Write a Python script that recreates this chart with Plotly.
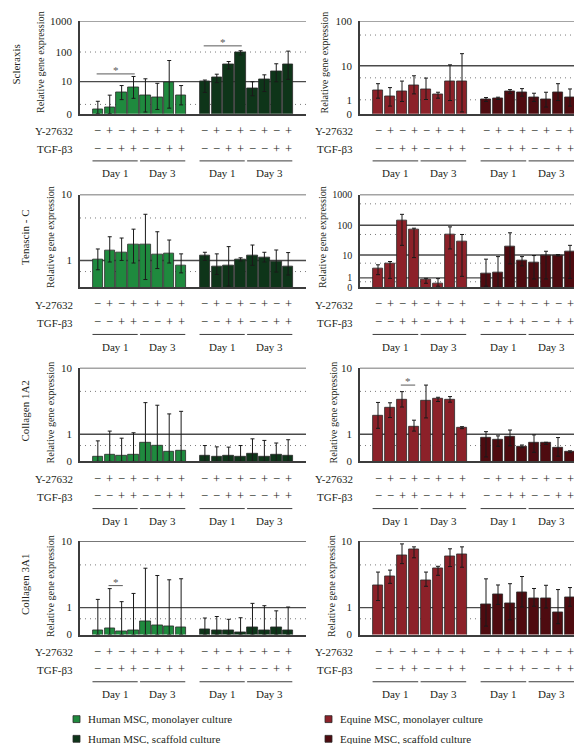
import math
import plotly.graph_objects as go

W, H = 582, 744
FONT = "Liberation Serif"
TXT = "#231f20"

# ---------------- data ----------------
genes = ["Scleraxis", "Tenascin - C", "Collagen 1A2", "Collagen 3A1"]
series_names = ["Human MSC, monolayer culture", "Human MSC, scaffold culture",
                "Equine MSC, monolayer culture", "Equine MSC, scaffold culture"]
y27632_signs = ["−", "+", "−", "+", "−", "+", "−", "+"]
tgfb3_signs = ["−", "−", "+", "+", "−", "−", "+", "+"]
day_labels = ["Day 1", "Day 3"]

# Scleraxis
scx_hm = [0.37, 0.63, 3.9, 6.05, 2.93, 2.39, 9.2, 2.93]
scx_hm_lo = [0, 0, 1.86, 2.15, 0.13, 0.37, 0.51, 0.93]
scx_hm_hi = [1.53, 3.0, 7.2, 15.2, 12.6, 8.7, 52.5, 7.2]
scx_hs = [9.9, 13.7, 37.9, 95, 5.5, 12, 22.3, 37.9]
scx_hs_lo = [3.9, 9.2, 27.3, 80, 2.83, 4.25, 9.9, 12]
scx_hs_hi = [11.4, 18.2, 48.6, 110, 9.9, 17.3, 40.9, 107]
scx_em = [2.22, 1.32, 2.02, 3.13, 2.44, 1.56, 3.95, 3.95]
scx_em_lo = [1.17, 0.46, 0.84, 1.69, 1.03, 1.17, 0.93, 0.09]
scx_em_hi = [3.48, 2.68, 4.1, 5.65, 4.93, 1.92, 10.5, 19.1]
scx_es = [1.03, 1.17, 2.02, 1.92, 1.28, 1.03, 1.92, 1.21]
scx_es_lo = [0.84, 1.03, 1.73, 1.39, 0.84, 0.39, 0.93, 0.46]
scx_es_hi = [1.24, 1.28, 2.33, 2.5, 1.78, 1.92, 3.48, 2.44]

# Tenascin - C
tnc_hm = [1.07, 1.61, 1.47, 2.03, 2.03, 1.33, 1.39, 0.75]
tnc_hm_lo = [0.57, 0.92, 1.0, 0.87, 0.22, 0.62, 0.87, 0.45]
tnc_hm_hi = [1.69, 2.69, 2.57, 3.49, 5.6, 3.2, 2.39, 1.37]
tnc_hs = [1.25, 0.71, 0.75, 1.07, 1.29, 1.14, 0.93, 0.69]
tnc_hs_lo = [1.0, 0.39, 0.03, 0.97, 0.76, 0.92, 0.48, 0.37]
tnc_hs_hi = [1.47, 1.37, 1.86, 1.14, 1.98, 1.47, 1.62, 1.45]
tnc_em = [2.96, 4.73, 139, 75, 0.72, 0.28, 50, 30.2]
tnc_em_lo = [1.55, 0.94, 21.7, 8.1, 0.34, 0.08, 16.3, 1.25]
tnc_em_hi = [4.32, 5.8, 228, 80.5, 0.94, 0.9, 89, 50]
tnc_es = [1.74, 2.1, 19, 6.1, 5.3, 9.9, 9.9, 13.6]
tnc_es_lo = [0.08, 0, 4.7, 3.9, 0.85, 0.85, 9.3, 0.94]
tnc_es_hi = [7.1, 8.8, 56.8, 8.8, 9.6, 13.6, 10.4, 21.7]

# Collagen 1A2
c1_hm = [0.12, 0.19, 0.15, 0.19, 0.63, 0.5, 0.29, 0.33]
c1_hm_lo = [0, 0, 0, 0, 0, 0, 0, 0]
c1_hm_hi = [0.69, 1.17, 0.81, 1.08, 3.5, 3.21, 2.37, 2.6]
c1_hs = [0.17, 0.13, 0.17, 0.13, 0.22, 0.13, 0.2, 0.15]
c1_hs_lo = [0, 0, 0, 0, 0, 0, 0, 0]
c1_hs_hi = [0.5, 0.45, 0.44, 0.5, 0.78, 0.71, 0.6, 0.74]
c1_em = [2.2, 2.92, 3.86, 1.4, 3.75, 3.99, 3.91, 1.37]
c1_em_lo = [1.33, 2.07, 3.02, 1.17, 2.04, 3.63, 3.55, 1.31]
c1_em_hi = [3.52, 3.48, 4.96, 1.87, 6.05, 4.16, 4.25, 1.43]
c1_es = [0.81, 0.73, 0.89, 0.47, 0.6, 0.6, 0.43, 0.28]
c1_es_lo = [0.12, 0.47, 0.49, 0.42, 0.26, 0.54, 0.14, 0.25]
c1_es_hi = [1.14, 0.92, 1.23, 0.52, 0.97, 0.63, 0.84, 0.31]

# Collagen 3A1
c3_hm = [0.11, 0.17, 0.08, 0.12, 0.4, 0.27, 0.25, 0.21]
c3_hm_lo = [0, 0, 0, 0, 0, 0, 0, 0]
c3_hm_hi = [1.47, 2.26, 1.33, 1.88, 4.51, 3.57, 3.09, 3.2]
c3_hs = [0.13, 0.11, 0.1, 0.07, 0.21, 0.11, 0.19, 0.1]
c3_hs_lo = [0, 0, 0, 0, 0, 0, 0, 0]
c3_hs_hi = [0.53, 0.59, 0.48, 0.54, 1.23, 1.1, 0.84, 1.03]
c3_em = [2.52, 3.52, 6.69, 7.93, 3.08, 4.51, 6.43, 6.94]
c3_em_lo = [1.4, 2.73, 5.2, 6.2, 2.46, 3.59, 4.75, 4.65]
c3_em_hi = [3.99, 4.25, 9.3, 8.55, 3.99, 4.79, 8.08, 8.55]
c3_es = [1.17, 1.79, 1.21, 1.96, 1.55, 1.55, 0.75, 1.63]
c3_es_lo = [0.24, 1.17, 0.46, 1.03, 1.07, 0.98, 0.32, 1.07]
c3_es_hi = [3.19, 2.58, 2.7, 3.45, 2.27, 2.55, 2.18, 2.35]

# significance brackets: (panel, first bar slot, last bar slot, level)
sig_panel = [0, 0, 5, 6]
sig_from = [0, 9, 2, 1]
sig_to = [3, 12, 3, 2]
sig_level = [18.6, 159, 6.05, 2.52]

# ---------------- styling / layout ----------------
COLORS = ["#1f8a3e", "#0e3519", "#8c2129", "#4e0b10"]
panel_data = [
    ((scx_hm, scx_hm_lo, scx_hm_hi), (scx_hs, scx_hs_lo, scx_hs_hi)),
    ((scx_em, scx_em_lo, scx_em_hi), (scx_es, scx_es_lo, scx_es_hi)),
    ((tnc_hm, tnc_hm_lo, tnc_hm_hi), (tnc_hs, tnc_hs_lo, tnc_hs_hi)),
    ((tnc_em, tnc_em_lo, tnc_em_hi), (tnc_es, tnc_es_lo, tnc_es_hi)),
    ((c1_hm, c1_hm_lo, c1_hm_hi), (c1_hs, c1_hs_lo, c1_hs_hi)),
    ((c1_em, c1_em_lo, c1_em_hi), (c1_es, c1_es_lo, c1_es_hi)),
    ((c3_hm, c3_hm_lo, c3_hm_hi), (c3_hs, c3_hs_lo, c3_hs_hi)),
    ((c3_em, c3_em_lo, c3_em_hi), (c3_es, c3_es_lo, c3_es_hi)),
]
top_val = [1000, 100, 10, 1000, 10, 10, 10, 10]
tick_vals = [[0, 10, 100, 1000], [0, 1, 10, 100], [1, 10], [0, 1, 10, 100, 1000],
             [0, 1, 10], [0, 1, 10], [0, 1, 10], [0, 1, 10]]
tick_size = [11, 11, 11, 10, 11, 11, 11, 11]
solid_grid = [[10, 1000], [10, 100], [1, 10], [1, 10, 100, 1000],
              [1, 10], [1, 10], [1, 10], [1, 10]]
dot_grid = [[1, 100], [1, 5, 50], [0.5, 5], [0.5, 5, 50, 500],
            [0.5, 5], [0.5, 5], [0.5, 5], [0.5, 5]]

row_px = [(7.5, 101.3), (183.5, 277.7), (359.5, 454.7), (536.0, 630.7)]
col_px = [(72, 298), (352, 580)]
ytitle_x = [(32.5, 317), (43, 315), (43, 326), (43, 324)]
ytitle_dy = [-5, -4, -2, -2]
gene_x = [8, 17, 17, 17]


def pxx(x):
    return x / W


def pxy(y):
    return 1 - y / H


def L(v):
    return math.log10(1 + v)


def ann(**kw):
    d = dict(showarrow=False, xanchor="center", yanchor="middle",
             font=dict(family=FONT, size=11, color=TXT))
    d.update(kw)
    return d


SIGN_FONT = dict(family=FONT, size=12.5, color=TXT)
TITLE_FONT = dict(family=FONT, size=10.2, color=TXT)

fig = go.Figure()
shapes = []
annotations = []

for k in range(8):
    row, col = divmod(k, 2)
    xa = "x" if k == 0 else f"x{k + 1}"
    ya = "y" if k == 0 else f"y{k + 1}"
    xlay = "xaxis" if k == 0 else f"xaxis{k + 1}"
    ylay = "yaxis" if k == 0 else f"yaxis{k + 1}"
    top, bot = row_px[row]
    x0, x1 = col_px[col]

    for g in range(2):
        mean, lo, hi = panel_data[k][g]
        sidx = 2 * col + g
        xs = [i + 9 * g for i in range(8)]
        fig.add_trace(go.Bar(
            x=xs, y=[1 + m for m in mean],
            name=series_names[sidx], showlegend=False,
            marker=dict(color=COLORS[sidx], line=dict(color="#2a2a2a", width=0.8)),
            width=0.88,
            error_y=dict(type="data", symmetric=False,
                         array=[h - m for h, m in zip(hi, mean)],
                         arrayminus=[m - l for m, l in zip(mean, lo)],
                         color="#1a1a1a", thickness=1, width=2),
            xaxis=xa, yaxis=ya, hoverinfo="skip"))

    fig.update_layout({
        xlay: dict(domain=[pxx(x0), pxx(x1)], range=[-1.5, 17.5], anchor=ya,
                   showticklabels=False, ticks="", showgrid=False, zeroline=False,
                   showline=True, linecolor="#3c3c3c", linewidth=1.5, fixedrange=True),
        ylay: dict(domain=[pxy(bot), pxy(top)], type="log", range=[0, L(top_val[k])],
                   anchor=xa, tickvals=[1 + v for v in tick_vals[k]],
                   ticktext=[str(v) for v in tick_vals[k]], ticks="",
                   tickfont=dict(family=FONT, size=tick_size[k], color=TXT),
                   ticklabelstandoff=4,
                   showgrid=False, zeroline=False, showline=True, linecolor="#3c3c3c",
                   linewidth=1.5, fixedrange=True),
    })

    # grid lines (shapes on a log axis take data values)
    for v in solid_grid[k]:
        shapes.append(dict(type="line", xref=f"{xa} domain", yref=ya, x0=0, x1=1,
                           y0=1 + v, y1=1 + v, layer="below",
                           line=dict(color="#4a4a4a", width=1.4)))
    for v in dot_grid[k]:
        shapes.append(dict(type="line", xref=f"{xa} domain", yref=ya, x0=0, x1=1,
                           y0=1 + v, y1=1 + v, layer="below",
                           line=dict(color="#7a7a7a", width=1, dash="1px,4px")))

    # treatment sign rows
    for g in range(2):
        for i in range(8):
            xpos = i + 9 * g
            annotations.append(ann(x=xpos, y=pxy(bot + 17.5), xref=xa, yref="paper",
                                   text=y27632_signs[i], font=SIGN_FONT))
            annotations.append(ann(x=xpos, y=pxy(bot + 35.5), xref=xa, yref="paper",
                                   text=tgfb3_signs[i], font=SIGN_FONT))
        for d in range(2):
            start = 9 * g + 4 * d
            shapes.append(dict(type="line", xref=xa, yref="paper",
                               x0=start - 0.45, x1=start + 3.35,
                               y0=pxy(bot + 48), y1=pxy(bot + 48),
                               line=dict(color="#3c3c3c", width=1)))
            annotations.append(ann(x=start + 1.45, y=pxy(bot + 60.5), xref=xa, yref="paper",
                                   text=day_labels[d]))

    lab_x = 67 if col == 0 else 347
    annotations.append(ann(x=pxx(lab_x), y=pxy(bot + 18), xref="paper", yref="paper",
                           text="Y-27632", xanchor="right"))
    annotations.append(ann(x=pxx(lab_x), y=pxy(bot + 36), xref="paper", yref="paper",
                           text="TGF-β3", xanchor="right"))

    # axis title
    annotations.append(ann(x=pxx(ytitle_x[row][col]), y=pxy((top + bot) / 2 + ytitle_dy[row]),
                           xref="paper", yref="paper", text="Relative gene expression",
                           textangle=-90, font=TITLE_FONT))
    if col == 0:
        annotations.append(ann(x=pxx(gene_x[row]), y=pxy((top + bot) / 2 - 3),
                               xref="paper", yref="paper", text=genes[row], textangle=-90))

# significance brackets
for p, a, b, lev in zip(sig_panel, sig_from, sig_to, sig_level):
    xa = "x" if p == 0 else f"x{p + 1}"
    ya = "y" if p == 0 else f"y{p + 1}"
    shapes.append(dict(type="line", xref=xa, yref=ya, x0=a - 0.1, x1=b + 0.1,
                       y0=1 + lev, y1=1 + lev, line=dict(color="#5a5a5a", width=1)))
    annotations.append(ann(x=(a + b) / 2, y=L(lev), xref=xa, yref=ya, text="*",
                           yanchor="bottom", yshift=-4,
                           font=dict(family=FONT, size=11, color="#5a5a5a")))

# legend (drawn)
leg_sq_x = [65, 65, 317, 317]
leg_y = [716.7, 736.7, 716.7, 736.7]
for s in range(4):
    sx, sy = leg_sq_x[s], leg_y[s]
    shapes.append(dict(type="rect", xref="paper", yref="paper",
                       x0=pxx(sx), x1=pxx(sx + 7), y0=pxy(sy + 3.5), y1=pxy(sy - 3.5),
                       fillcolor=COLORS[s], line=dict(color="#2a2a2a", width=0.8)))
    annotations.append(ann(x=pxx(sx + 13), y=pxy(sy), xref="paper", yref="paper",
                           text=series_names[s], xanchor="left"))

fig.update_layout(
    width=W, height=H, margin=dict(l=0, r=0, t=0, b=0),
    paper_bgcolor="white", plot_bgcolor="white", showlegend=False,
    bargap=0, shapes=shapes, annotations=annotations,
    font=dict(family=FONT, size=11, color=TXT),
)

fig.write_html("out.html")
